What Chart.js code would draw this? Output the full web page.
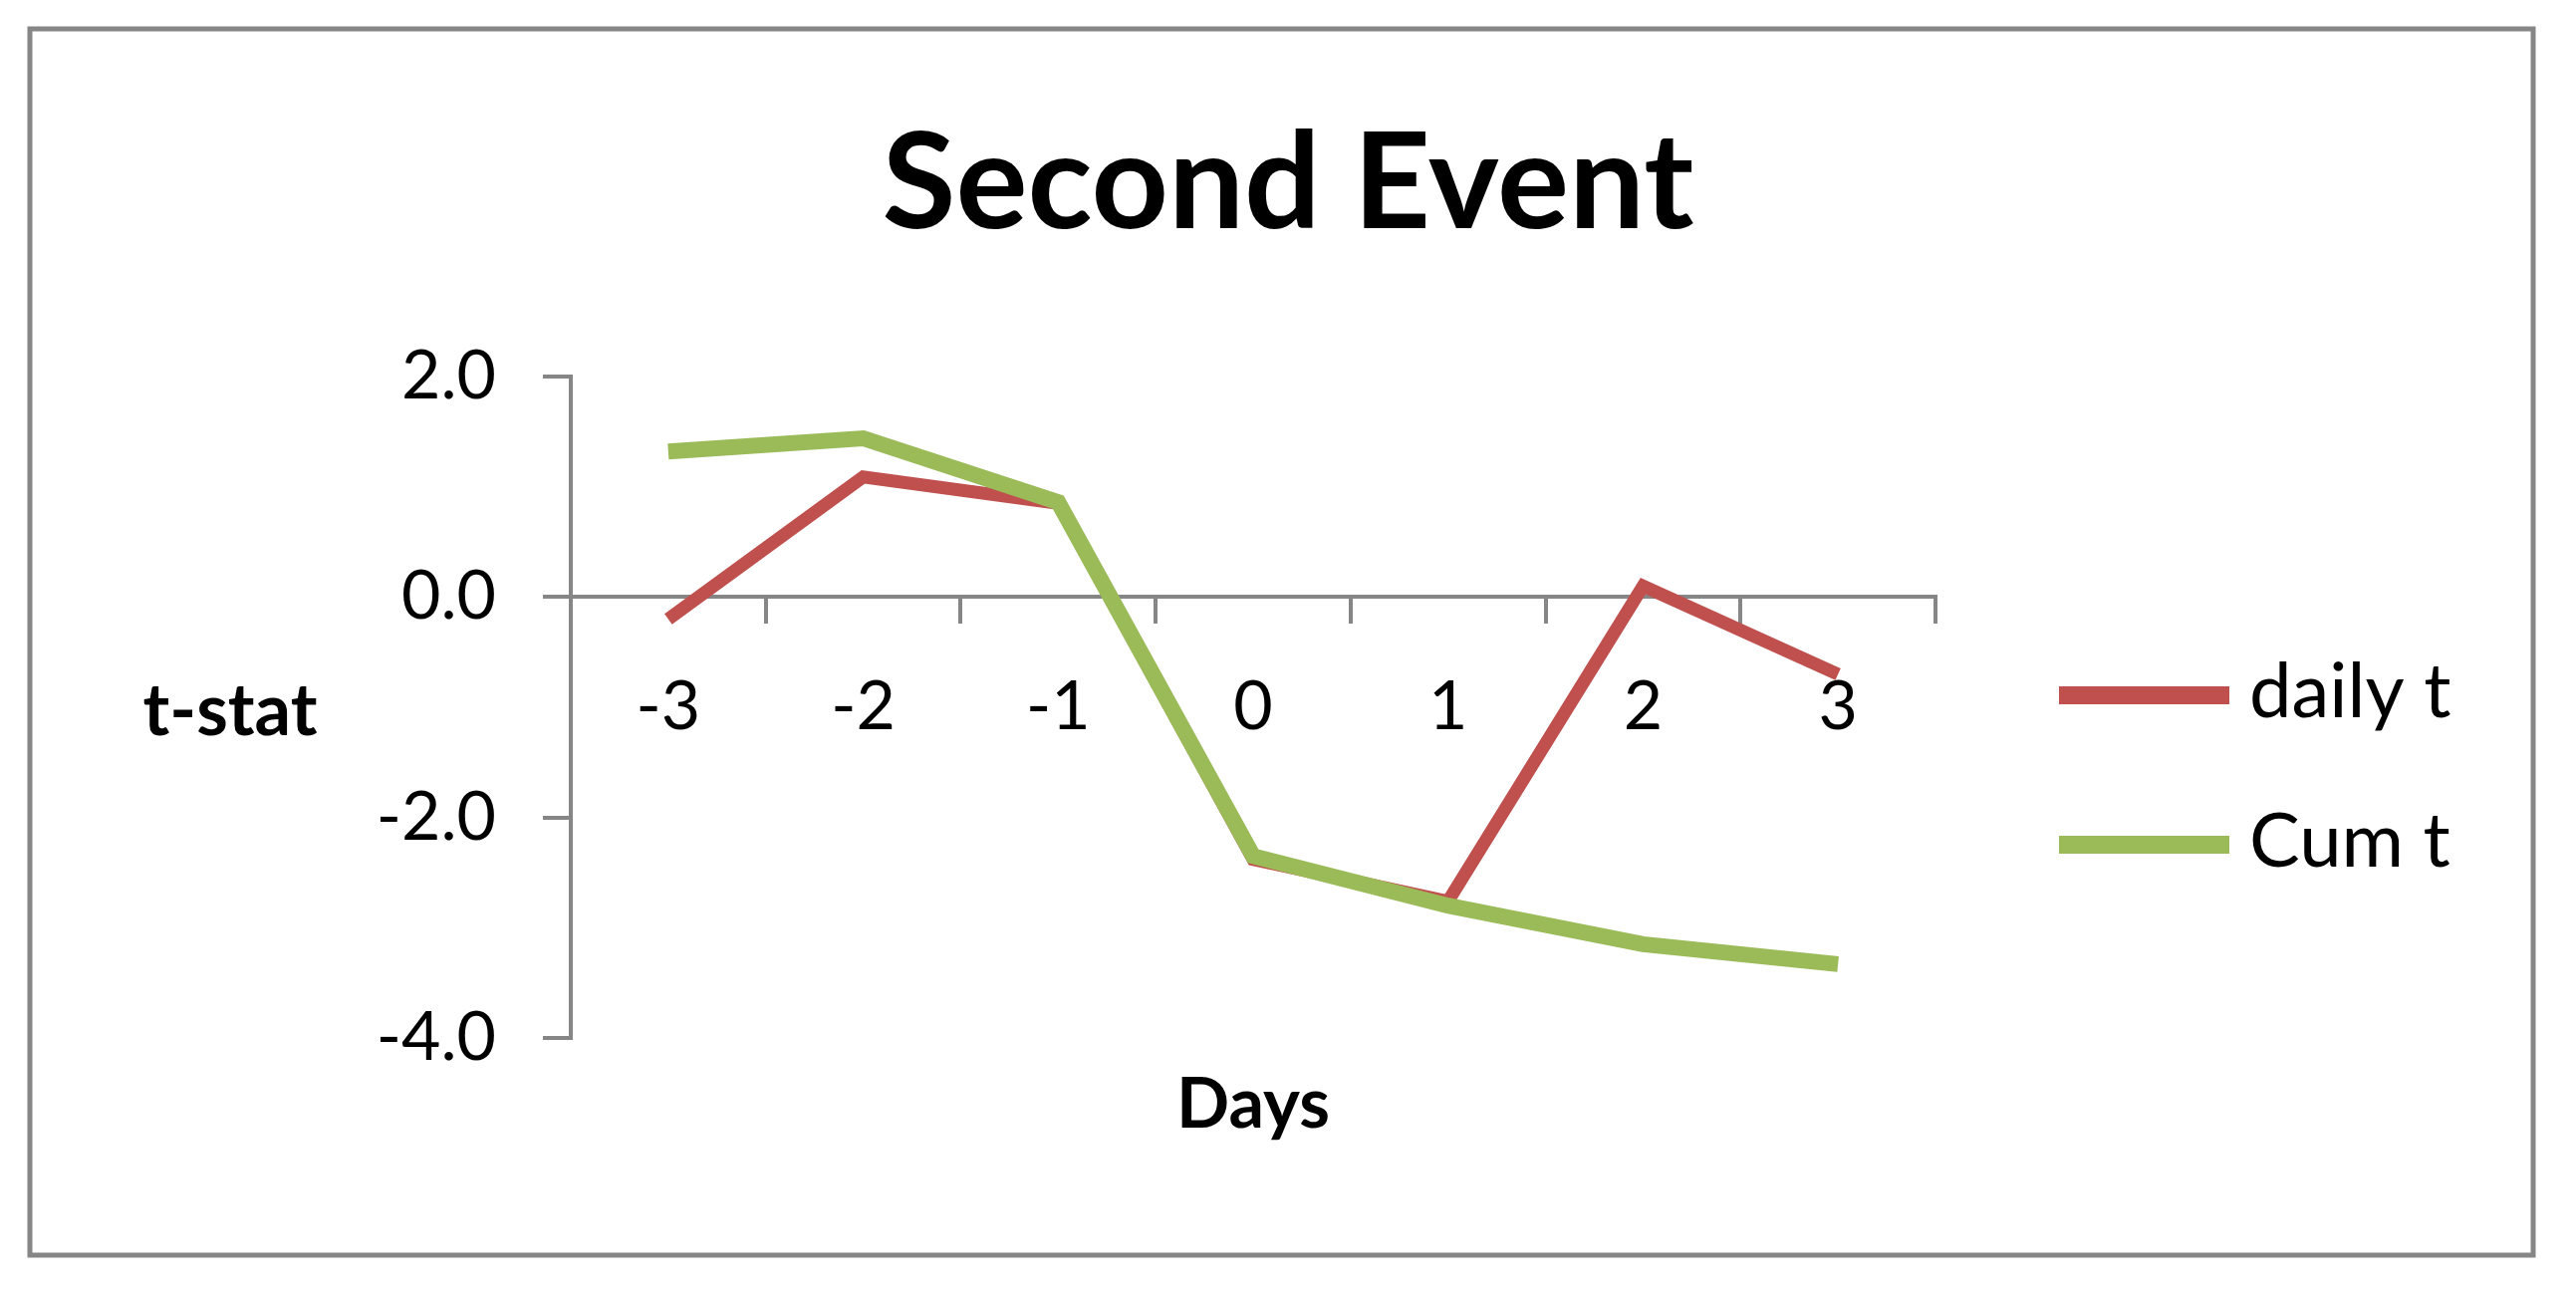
<!DOCTYPE html>
<html>
<head>
<meta charset="utf-8">
<script src="https://cdn.jsdelivr.net/npm/chart.js@4.4.0/dist/chart.umd.min.js"></script>
<style>
  html, body { margin: 0; padding: 0; background: #fff; }
  canvas { display: block; }
</style>
</head>
<body>
<canvas id="eventChart" width="2586" height="1295"></canvas>
<script>
// données
const days = ['-3', '-2', '-1', '0', '1', '2', '3'];
const dailyT = [-0.2, 1.09, 0.85, -2.38, -2.76, 0.1, -0.7];
const cumT = [1.32, 1.44, 0.86, -2.35, -2.8, -3.15, -3.33];
const yTicks = [-4, -2, 0, 2];

const axisGrey = '#868686';
const fontFamily = 'Lato';

// cadre gris autour du graphique
const frame = {
    id: 'frame',
    beforeDraw(chart) {
        const ctx = chart.ctx;
        ctx.save();
        ctx.fillStyle = '#fff';
        ctx.fillRect(0, 0, chart.width, chart.height);
        ctx.strokeStyle = axisGrey;
        ctx.lineWidth = 5;
        ctx.strokeRect(30, 29, 2513, 1231);
        ctx.restore();
    }
};

// titres d'axes horizontaux + légende à droite
const labels = {
    id: 'labels',
    afterDraw(chart) {
        const ctx = chart.ctx;
        const area = chart.chartArea;
        ctx.save();
        ctx.fillStyle = '#000';
        ctx.textAlign = 'center';
        ctx.textBaseline = 'alphabetic';
        ctx.font = 'bold 72px ' + fontFamily;
        ctx.fillText('t-stat', 231, 738);
        ctx.font = 'bold 70px ' + fontFamily;
        ctx.fillText('Days', (area.left + area.right) / 2, 1132);

        ctx.textAlign = 'left';
        ctx.font = '76px ' + fontFamily;
        chart.data.datasets.forEach((ds, i) => {
            const y = 698 + i * 150;
            ctx.strokeStyle = ds.borderColor;
            ctx.lineWidth = 18;
            ctx.lineCap = 'butt';
            ctx.beginPath();
            ctx.moveTo(2067, y);
            ctx.lineTo(2238, y);
            ctx.stroke();
            ctx.fillText(ds.label, 2258, y + 22);
        });
        ctx.restore();
    }
};

new Chart(document.getElementById('eventChart'), {
    type: 'line',
    data: {
        labels: days,
        datasets: [
            {
                label: 'daily t',
                data: dailyT,
                borderColor: '#C0504D',
                backgroundColor: '#C0504D',
                borderWidth: 13,
                pointRadius: 0,
                tension: 0,
                order: 1
            },
            {
                label: 'Cum t',
                data: cumT,
                borderColor: '#9BBB59',
                backgroundColor: '#9BBB59',
                borderWidth: 16,
                pointRadius: 0,
                tension: 0,
                order: 0
            }
        ]
    },
    options: {
        responsive: false,
        animation: false,
        layout: {
            padding: { top: 0, left: 0, right: 0, bottom: 253 }
        },
        plugins: {
            legend: { display: false },
            tooltip: { enabled: false },
            title: {
                display: true,
                text: 'Second Event',
                color: '#000',
                font: { family: fontFamily, size: 135, weight: 'bold' },
                padding: { top: 104, bottom: 112 }
            }
        },
        scales: {
            x: {
                type: 'category',
                position: { y: 0 },
                offset: true,
                afterFit: (scale) => { scale.height = 0; },
                border: { display: true, color: axisGrey, width: 4 },
                grid: {
                    offset: true,
                    drawOnChartArea: false,
                    drawTicks: true,
                    tickLength: 25,
                    color: axisGrey,
                    lineWidth: 4
                },
                ticks: {
                    color: '#000',
                    padding: 45,
                    maxRotation: 0,
                    font: { family: fontFamily, size: 68 }
                }
            },
            y: {
                min: -4,
                max: 2,
                afterFit: (scale) => { scale.width = 573; },
                afterBuildTicks: (scale) => {
                    scale.ticks = yTicks.map(v => ({ value: v }));
                },
                border: { display: true, color: axisGrey, width: 4 },
                grid: {
                    drawOnChartArea: false,
                    drawTicks: true,
                    tickLength: 28,
                    color: axisGrey,
                    lineWidth: 4
                },
                ticks: {
                    color: '#000',
                    padding: 47,
                    font: { family: fontFamily, size: 68 },
                    callback: (v) => Number(v).toFixed(1)
                }
            },
            // axe vide à droite : réserve la place de la légende
            side: {
                type: 'linear',
                position: 'right',
                afterFit: (scale) => { scale.width = 643; },
                border: { display: false },
                grid: { display: false },
                ticks: { display: false }
            }
        }
    },
    plugins: [frame, labels]
});
</script>
</body>
</html>
